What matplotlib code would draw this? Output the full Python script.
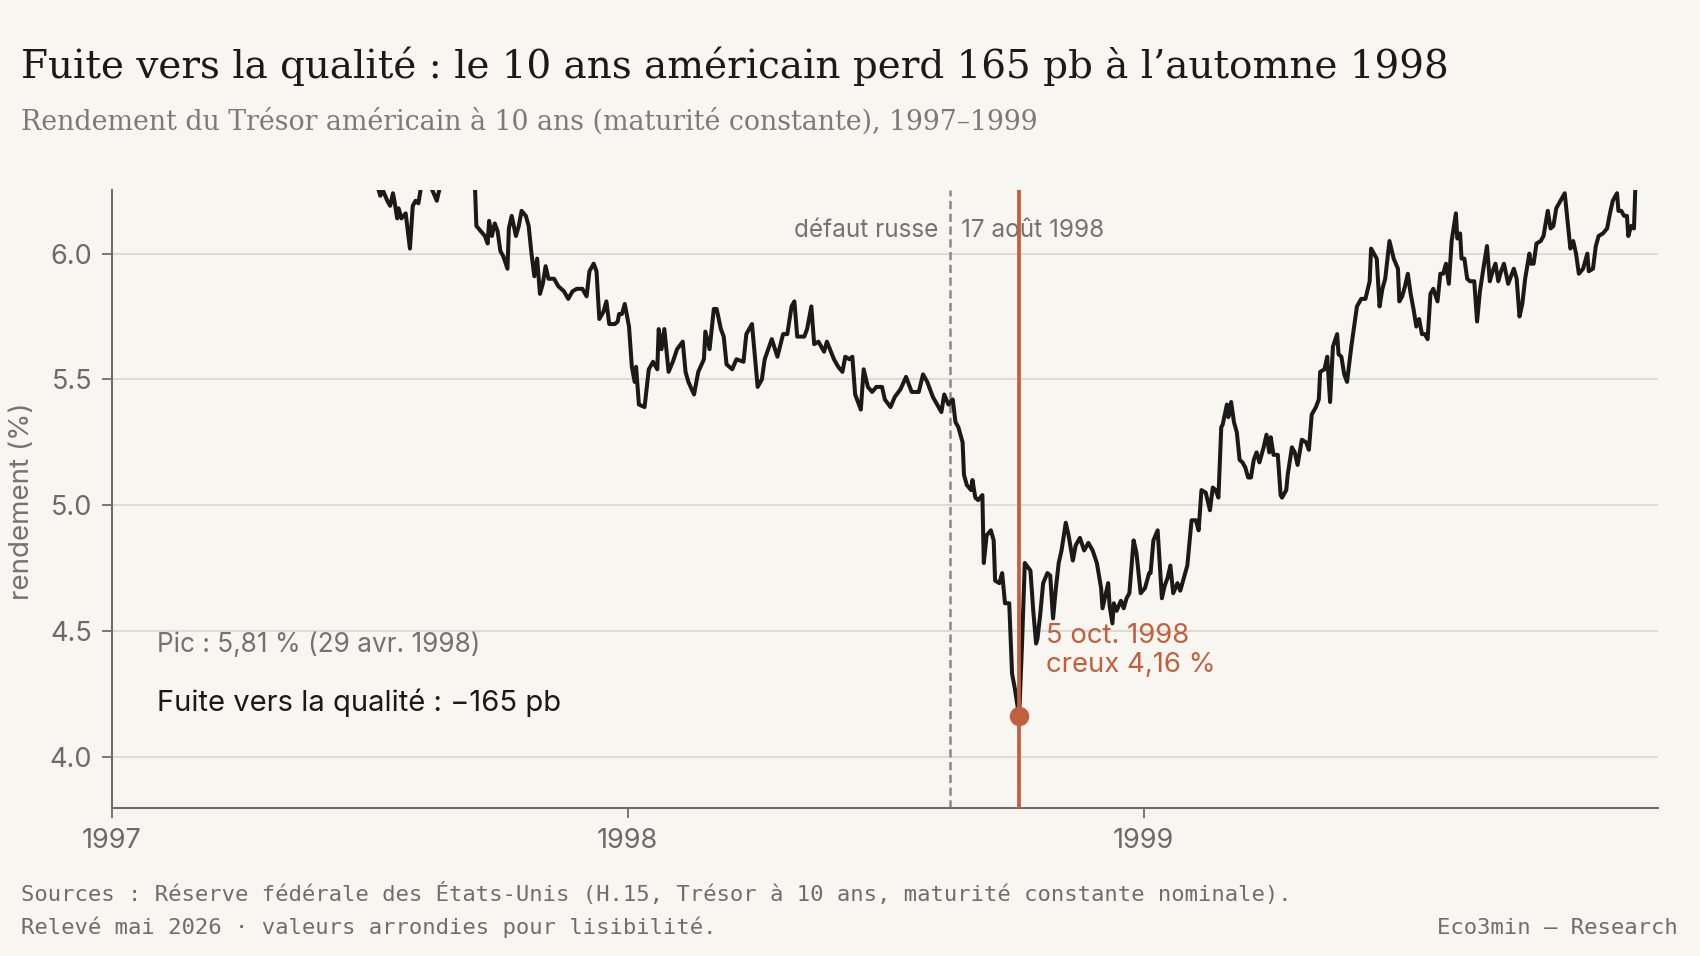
import numpy as np
import pandas as pd
import matplotlib
matplotlib.use("Agg")
import matplotlib.pyplot as plt
import matplotlib.dates as mdates
from matplotlib.ticker import FormatStrFormatter

# (jours depuis le 1er janvier 1997, rendement %)
rdt_1997 = [(0, 6.45), (20, 6.55), (45, 6.40), (60, 6.55), (80, 6.85), (100, 6.95), (115, 6.75),
            (135, 6.70), (150, 6.55), (170, 6.45), (182, 6.35),
            (188, 6.27), (190, 6.23), (192, 6.25), (195, 6.21), (197, 6.19), (199, 6.24), (200, 6.21),
            (202, 6.14), (203, 6.18), (205, 6.14), (208, 6.16), (211, 6.02), (213, 6.19), (215, 6.21),
            (217, 6.20), (219, 6.27), (222, 6.31), (227, 6.25), (230, 6.21), (232, 6.26), (240, 6.35),
            (250, 6.33), (257, 6.27), (258, 6.11), (261, 6.09), (264, 6.07), (266, 6.04), (267, 6.13),
            (269, 6.07), (271, 6.12), (273, 6.09), (275, 6.01), (277, 5.99), (280, 5.94), (281, 6.10),
            (283, 6.15), (286, 6.07), (288, 6.11), (290, 6.17), (293, 6.15), (295, 6.11), (297, 6.00),
            (299, 5.91), (301, 5.98), (303, 5.84), (305, 5.88), (307, 5.95), (309, 5.90), (313, 5.90),
            (316, 5.87), (320, 5.85), (323, 5.82), (326, 5.85), (329, 5.86), (333, 5.86), (336, 5.83),
            (338, 5.93), (341, 5.96), (343, 5.93), (345, 5.74), (348, 5.77), (350, 5.81), (352, 5.72),
            (356, 5.72), (358, 5.73), (359, 5.76), (361, 5.76), (363, 5.80)]
rdt_1998 = [(366, 5.71), (368, 5.55), (370, 5.49), (371, 5.55), (373, 5.40), (377, 5.39), (380, 5.54),
            (383, 5.57), (386, 5.54), (387, 5.70), (389, 5.62), (391, 5.70), (394, 5.53), (397, 5.57),
            (400, 5.62), (404, 5.65), (406, 5.53), (408, 5.49), (412, 5.44), (415, 5.53), (419, 5.58),
            (420, 5.69), (423, 5.62), (426, 5.78), (428, 5.78), (431, 5.70), (433, 5.67), (435, 5.56),
            (439, 5.54), (442, 5.58), (447, 5.57), (449, 5.68), (453, 5.72), (457, 5.47), (460, 5.50),
            (462, 5.58), (467, 5.66), (471, 5.59), (475, 5.68), (478, 5.68), (481, 5.79), (483, 5.81),
            (485, 5.67), (490, 5.67), (492, 5.70), (495, 5.79), (497, 5.64), (500, 5.65), (504, 5.61),
            (506, 5.65), (511, 5.58), (514, 5.55), (517, 5.53), (519, 5.59), (522, 5.58), (524, 5.59),
            (526, 5.44), (530, 5.38), (532, 5.54), (535, 5.47), (538, 5.45), (541, 5.47), (545, 5.47),
            (547, 5.42), (551, 5.39), (554, 5.43), (558, 5.46), (562, 5.51), (566, 5.45), (571, 5.45),
            (574, 5.52), (577, 5.49), (581, 5.43), (583, 5.41), (587, 5.37), (589, 5.44), (592, 5.40),
            (595, 5.42), (597, 5.33), (599, 5.31), (600, 5.29), (602, 5.25), (603, 5.12), (605, 5.08),
            (608, 5.06), (609, 5.10), (611, 5.03), (613, 5.02), (616, 5.04), (617, 4.77), (619, 4.88),
            (622, 4.90), (624, 4.86), (625, 4.70), (628, 4.69), (630, 4.73), (632, 4.61), (635, 4.61),
            (637, 4.33), (639, 4.27), (642, 4.16), (644, 4.44), (646, 4.77), (650, 4.74), (652, 4.58),
            (654, 4.45), (655, 4.47), (657, 4.57), (659, 4.69), (662, 4.73), (664, 4.72), (666, 4.55),
            (668, 4.67), (670, 4.77), (672, 4.82), (675, 4.93), (677, 4.88), (680, 4.78), (682, 4.84),
            (685, 4.87), (688, 4.82), (691, 4.85), (694, 4.82), (697, 4.77), (700, 4.67), (701, 4.59),
            (703, 4.64), (705, 4.69), (706, 4.60), (708, 4.53), (709, 4.61), (711, 4.58), (714, 4.62),
            (716, 4.59), (718, 4.63), (720, 4.65), (723, 4.86), (725, 4.81), (728, 4.65)]
rdt_1999 = [(731, 4.67), (734, 4.73), (735, 4.73), (737, 4.86), (740, 4.90), (743, 4.63), (745, 4.68),
            (747, 4.71), (749, 4.76), (751, 4.65), (754, 4.69), (756, 4.66), (758, 4.70), (761, 4.76),
            (764, 4.94), (767, 4.94), (769, 4.90), (771, 5.06), (774, 5.05), (777, 4.98), (779, 5.07),
            (781, 5.06), (783, 5.03), (785, 5.31), (786, 5.32), (789, 5.40), (790, 5.35), (792, 5.41),
            (794, 5.33), (796, 5.29), (798, 5.18), (800, 5.17), (802, 5.15), (804, 5.11), (806, 5.11),
            (808, 5.18), (810, 5.21), (812, 5.17), (815, 5.23), (817, 5.28), (819, 5.21), (820, 5.27),
            (822, 5.20), (825, 5.20), (827, 5.04), (828, 5.03), (831, 5.06), (832, 5.12), (835, 5.23),
            (837, 5.21), (839, 5.16), (842, 5.26), (845, 5.25), (847, 5.22), (849, 5.36), (852, 5.39),
            (854, 5.42), (855, 5.53), (858, 5.54), (860, 5.59), (862, 5.41), (864, 5.63), (867, 5.68),
            (868, 5.60), (870, 5.59), (872, 5.52), (874, 5.49), (877, 5.63), (879, 5.71), (881, 5.79),
            (884, 5.82), (887, 5.82), (890, 5.89), (891, 6.02), (893, 6.00), (895, 5.98), (897, 5.79),
            (899, 5.86), (901, 5.90), (904, 6.05), (907, 5.98), (910, 5.94), (911, 5.81), (913, 5.83),
            (915, 5.87), (917, 5.92), (919, 5.84), (921, 5.78), (923, 5.71), (925, 5.74), (927, 5.68),
            (929, 5.68), (931, 5.66), (933, 5.84), (935, 5.86), (938, 5.81), (940, 5.92), (942, 5.92),
            (944, 5.96), (946, 5.88), (948, 6.05), (951, 6.16), (952, 6.06), (954, 6.08), (955, 5.98),
            (957, 5.98), (959, 5.90), (961, 5.89), (964, 5.89), (966, 5.73), (968, 5.85), (971, 5.96),
            (973, 6.03), (975, 5.89), (977, 5.93), (979, 5.96), (981, 5.89), (983, 5.93), (985, 5.96),
            (988, 5.88), (990, 5.91), (992, 5.94), (994, 5.90), (996, 5.75), (998, 5.80), (1000, 5.90),
            (1003, 6.00), (1004, 5.96), (1006, 5.96), (1008, 6.04), (1011, 6.05), (1013, 6.07),
            (1016, 6.17), (1018, 6.10), (1020, 6.11), (1022, 6.18), (1025, 6.21), (1028, 6.24),
            (1030, 6.13), (1032, 6.02), (1034, 6.05), (1036, 6.00), (1038, 5.92), (1041, 5.94),
            (1044, 6.00), (1045, 5.93), (1048, 5.94), (1050, 6.03), (1052, 6.07), (1055, 6.08),
            (1058, 6.10), (1060, 6.16), (1062, 6.21), (1065, 6.24), (1066, 6.17), (1068, 6.17),
            (1070, 6.15), (1072, 6.15), (1073, 6.07), (1075, 6.11), (1077, 6.10), (1078, 6.27),
            (1085, 6.33), (1094, 6.44)]

origine = pd.Timestamp("1997-01-01")
defaut_russe = pd.Timestamp("1998-08-17")
date_creux = pd.Timestamp("1998-10-05")
val_creux = 4.16
yticks = [4.0, 4.5, 5.0, 5.5, 6.0]
xticks = ["1997-01-01", "1998-01-01", "1999-01-01"]

titre = "Fuite vers la qualité : le 10 ans américain perd 165 pb à l’automne 1998"
sous_titre = "Rendement du Trésor américain à 10 ans (maturité constante), 1997–1999"
source1 = "Sources : Réserve fédérale des États-Unis (H.15, Trésor à 10 ans, maturité constante nominale)."
source2 = "Relevé mai 2026 · valeurs arrondies pour lisibilité."
marque = "Eco3min — Research"

pts = rdt_1997 + rdt_1998 + rdt_1999
jours = np.array([p[0] for p in pts])
taux = np.array([p[1] for p in pts])
dates = origine + pd.to_timedelta(jours, unit="D")

FOND = "#f8f6f0"
NOIR = "#1a1a1a"
GRIS = "#737373"
ROUGE = "#c0603f"
SANS = ["Inter", "DejaVu Sans"]
SERIF = ["DejaVu Serif"]
MONO = ["DejaVu Sans Mono"]

plt.rcParams["font.family"] = SANS

fig = plt.figure(figsize=(17, 9.56), dpi=100, facecolor=FOND)
ax = fig.add_axes([0.0657, 0.1545, 0.9096, 0.6468], facecolor=FOND)

ax.plot(dates, taux, color=NOIR, lw=2.9, solid_joinstyle="round", zorder=2)

ax.axvline(defaut_russe, color="#8a8a8a", lw=1.8, ls=(0, (3.3, 1.8)), zorder=1)
ax.axvline(date_creux, color=ROUGE, lw=2.7, zorder=3)
ax.plot([date_creux], [val_creux], "o", ms=13, color=ROUGE, zorder=4)

ax.set_xlim(origine, pd.Timestamp("1999-12-31"))
ax.set_ylim(3.795, 6.253)
ax.set_yticks(yticks)
ax.yaxis.set_major_formatter(FormatStrFormatter("%.1f"))
ax.set_xticks(pd.to_datetime(xticks))
ax.xaxis.set_major_formatter(mdates.DateFormatter("%Y"))

ax.yaxis.grid(True, color="#dcd9d3", lw=1.3)
ax.set_axisbelow(True)
for s in ["top", "right"]:
    ax.spines[s].set_visible(False)
for s in ["left", "bottom"]:
    ax.spines[s].set_color("#6e6e6e")
    ax.spines[s].set_linewidth(1.5)
ax.tick_params(axis="both", length=7, width=1.3, color="#6e6e6e",
               labelcolor="#6b6b6b", labelsize=19.5, pad=7)

ax.annotate("défaut russe", xy=(defaut_russe, 6.067), xytext=(-8, 0), textcoords="offset points",
            ha="right", va="baseline", fontsize=17.5, color=GRIS, zorder=0)
ax.annotate("17 août 1998", xy=(defaut_russe, 6.067), xytext=(8, 0), textcoords="offset points",
            ha="left", va="baseline", fontsize=17.5, color=GRIS, zorder=0)

ax.annotate("5 oct. 1998", xy=(date_creux, 4.454), xytext=(19, 0), textcoords="offset points",
            ha="left", va="baseline", fontsize=19.8, color=ROUGE)
ax.annotate("creux 4,16 %", xy=(date_creux, 4.337), xytext=(19, 0), textcoords="offset points",
            ha="left", va="baseline", fontsize=19.8, color=ROUGE)

ax.text(0.0293, 0.2533, "Pic : 5,81 % (29 avr. 1998)", transform=ax.transAxes,
        ha="left", va="baseline", fontsize=18.9, color=GRIS)
ax.text(0.0293, 0.1574, "Fuite vers la qualité : −165 pb", transform=ax.transAxes,
        ha="left", va="baseline", fontsize=21, color=NOIR)

fig.text(0.013, 0.476, "rendement (%)", rotation=90, ha="center", va="center",
         fontsize=20, color=GRIS)

fig.text(0.0121, 0.9184, titre, family=SERIF, fontsize=28, color=NOIR, va="baseline")
fig.text(0.0121, 0.864, sous_titre, family=SERIF, fontsize=19.3, color="#7a7a7a", va="baseline")

fig.text(0.0121, 0.0575, source1, family=MONO, fontsize=16, color="#6e6e6e", va="baseline")
fig.text(0.0121, 0.023, source2, family=MONO, fontsize=16, color="#6e6e6e", va="baseline")
fig.text(0.987, 0.023, marque, family=MONO, fontsize=16, color="#6e6e6e", va="baseline", ha="right")

fig.savefig("out.png", dpi=100, facecolor=FOND)
